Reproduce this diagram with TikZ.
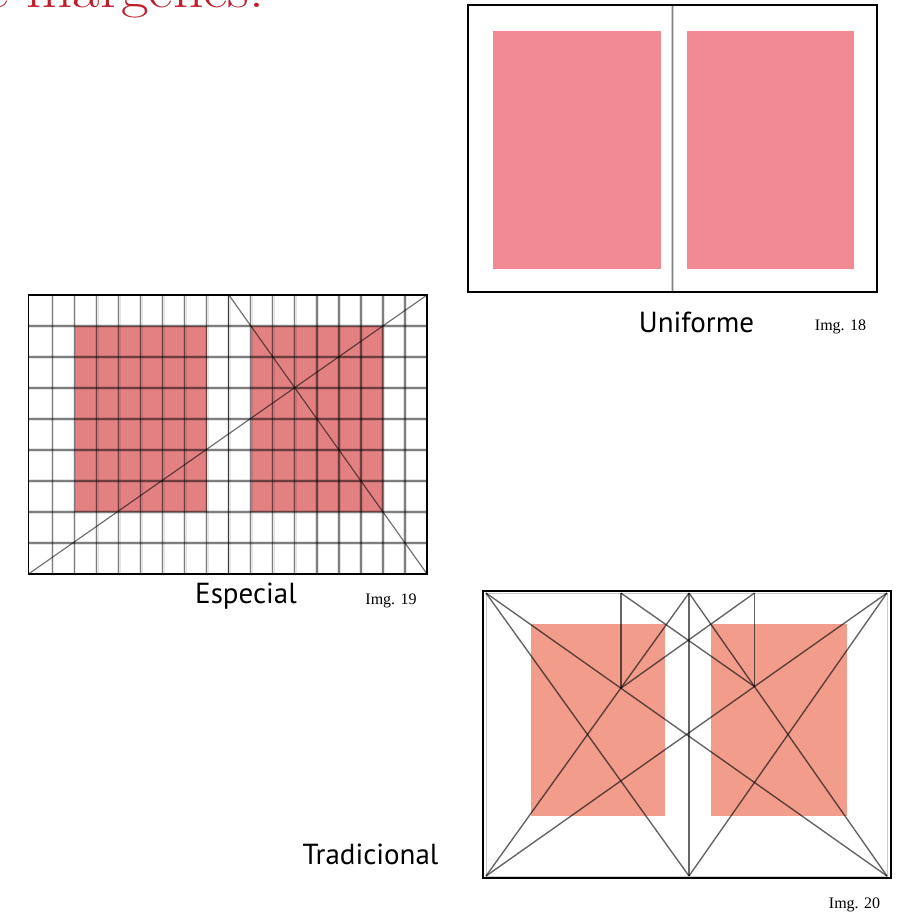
\documentclass[tikz,border=0pt]{standalone}
\usepackage{fontspec}
\newfontfamily\labelfont{PT Sans}
\newfontfamily\numfont{Liberation Serif}
\usepackage{tikz}
\usetikzlibrary{calc}
\definecolor{titlered}{RGB}{190,30,45}
\definecolor{pinkuni}{RGB}{242,138,148}
\definecolor{pinkesp}{RGB}{226,128,130}
\definecolor{pinktra}{RGB}{242,157,140}
\begin{document}
\begin{tikzpicture}[x=1pt, y=-1pt,
  frame/.style={draw=black, line width=1.5pt},
  gridline/.style={draw=black, draw opacity=0.45, line width=1.1pt,
    preaction={draw=black, draw opacity=0.1, line width=3.5pt}},
  guide/.style={draw=black, draw opacity=0.55, line width=1.2pt},
  canon/.style={draw=black, draw opacity=0.6, line width=1.4pt},
  caption/.style={anchor=base, inner sep=0pt, font=\labelfont\fontsize{29}{34}\selectfont},
  imgno/.style={anchor=base, inner sep=0pt, font=\numfont\fontsize{16}{19}\selectfont}]
\useasboundingbox (0,0) rectangle (900,914);
\node[anchor=base west, inner sep=0pt, xscale=1.15, text=titlered, font=\fontsize{52}{58}\selectfont] (title) at (-16,7.5) {e márgenes:};

\draw[frame] (468,5) rectangle (877,292);
\fill[pinkuni] (493,31) rectangle (661,269);
\fill[pinkuni] (687,31) rectangle (854,269);
\draw[draw=gray!35, line width=3.5pt] (672.7,6) -- (672.7,291);
\draw[draw=gray, line width=1.2pt] (672.7,6) -- (672.7,291);
\node[caption] (uniforme) at (696.5,332) {Uniforme};
\node[imgno] (img18) at (840.5,330) {Img. 18};

\begin{scope}[shift={(30.7,295)}, x=22.02pt, y=-31pt]
\fill[pinkesp] (2,1) rectangle (8,7);
\fill[pinkesp] (10,1) rectangle (16,7);
\foreach \i in {1,...,17} \draw[gridline] (\i,0) -- (\i,9);
\foreach \j in {1,...,8} \draw[gridline] (-0.1,\j) -- (18,\j);
\draw[guide] (9,0) -- (9,9);
\draw[guide] (-0.1,9) -- (18,0); \draw[guide] (9,0) -- (18,9);
\draw[frame] (-0.1,0) rectangle (18,9);
\end{scope}
\node[caption] (especial) at (246,603) {Especial};
\node[imgno] (img19) at (391,604) {Img. 19};

\coordinate (tl) at (486,593); \coordinate (tr) at (887,593);
\coordinate (bl) at (486,876); \coordinate (br) at (887,876);
\coordinate (st) at (689,593); \coordinate (sb) at (689,876);
\coordinate (pl) at (intersection of bl--st and tl--br);
\coordinate (pr) at (intersection of br--st and tr--bl);
\fill[pinktra] (531,624) rectangle (665,816);
\fill[pinktra] (711,624) rectangle (847,816);
\draw[draw=gray!40, line width=1pt] (tl) rectangle (br);
\draw[canon] (st) -- (sb);
\draw[canon] (tl) -- (sb); \draw[canon] (tr) -- (sb);
\draw[canon] (bl) -- (st); \draw[canon] (br) -- (st);
\draw[canon] (tl) -- (br); \draw[canon] (tr) -- (bl);
\draw[canon] (pl |- tl) -- (pl); \draw[canon] (pr |- tr) -- (pr);
\draw[canon] (pl |- tl) -- (pr); \draw[canon] (pr |- tr) -- (pl);
\draw[frame] (483,591) rectangle (891,878);
\node[caption] (tradicional) at (370.5,864) {Tradicional};
\node[imgno] (img20) at (854.5,908) {Img. 20};
\end{tikzpicture}
\end{document}
